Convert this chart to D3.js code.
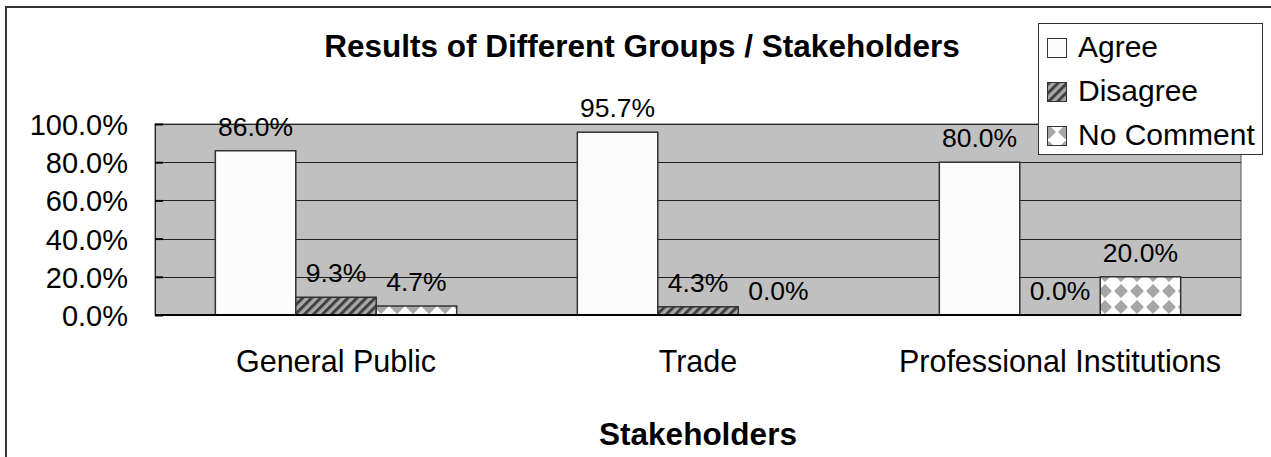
<!DOCTYPE html>
<html>
<head>
<meta charset="utf-8">
<script src="https://cdn.jsdelivr.net/npm/d3@7"></script>
<style>
  body { margin: 0; background: #fff; }
  text { font-family: "Liberation Sans", Arial, sans-serif; fill: #000; }
</style>
</head>
<body>
<div id="chart"></div>
<script>
  const categories = ['General Public', 'Trade', 'Professional Institutions'];
  const seriesNames = ['Agree', 'Disagree', 'No Comment'];
  const agree = [86.0, 95.7, 80.0];
  const disagree = [9.3, 4.3, 0.0];
  const noComment = [4.7, 0.0, 20.0];
  const yTicks = [0, 20, 40, 60, 80, 100];

  const width = 1271, height = 457;
  const plot = {left: 155, right: 1241, top: 124, bottom: 315};

  let svg = d3.select('#chart')
    .append('svg')
    .attr('width', width)
    .attr('height', height);

  // patterns
  let defs = svg.append('defs');
  let hatch = defs.append('pattern')
    .attr('id', 'hatch')
    .attr('patternUnits', 'userSpaceOnUse')
    .attr('width', 6.4)
    .attr('height', 6.4)
    .attr('patternTransform', 'rotate(45)');
  hatch.append('rect').attr('width', 6.4).attr('height', 6.4).attr('fill', '#a8a8a8');
  hatch.append('rect').attr('width', 3).attr('height', 6.4).attr('fill', '#404040');

  // rotated checkerboard: grey diamonds on the tile corners, white between
  let diamond = defs.append('pattern')
    .attr('id', 'diamond')
    .attr('patternUnits', 'userSpaceOnUse')
    .attr('width', 16)
    .attr('height', 16)
    .attr('x', 2)
    .attr('y', 3);
  diamond.append('rect').attr('width', 16).attr('height', 16).attr('fill', '#ffffff');
  diamond.append('path')
    .attr('d', 'M0,-7L7,0L0,7L-7,0Z M16,-7L23,0L16,7L9,0Z M0,9L7,16L0,23L-7,16Z M16,9L23,16L16,23L9,16Z')
    .attr('fill', '#a6a6a6');

  const fills = ['#fcfcfc', 'url(#hatch)', 'url(#diamond)'];
  const series = [agree, disagree, noComment];

  // outer frame
  svg.append('rect')
    .attr('x', 6).attr('y', 7)
    .attr('width', 1400).attr('height', 600)
    .attr('fill', 'none')
    .attr('stroke', '#333')
    .attr('stroke-width', 2);

  let x0 = d3.scaleBand()
    .domain(categories)
    .range([plot.left, plot.right]);
  let x1 = d3.scaleBand()
    .domain(seriesNames)
    .range([0, x0.bandwidth()])
    .paddingOuter(0.75);
  let y = d3.scaleLinear()
    .domain([0, 100])
    .range([plot.bottom, plot.top]);

  // plot background
  svg.append('rect')
    .attr('x', plot.left).attr('y', plot.top)
    .attr('width', plot.right - plot.left)
    .attr('height', plot.bottom - plot.top)
    .attr('fill', '#c0c0c0')
    .attr('stroke', '#555')
    .attr('stroke-width', 1);

  // gridlines
  svg.append('g')
    .selectAll('line')
    .data(yTicks)
    .join('line')
    .attr('x1', plot.left).attr('x2', plot.right)
    .attr('y1', d => Math.round(y(d)) + 0.5)
    .attr('y2', d => Math.round(y(d)) + 0.5)
    .attr('stroke', '#222')
    .attr('stroke-width', 1.2);

  // y axis
  let yAxis = svg.append('g')
    .attr('transform', `translate(${plot.left},0)`)
    .call(d3.axisLeft(y).tickValues(yTicks).tickSize(-8).tickPadding(27)
      .tickFormat(d => d.toFixed(1) + '%'));
  yAxis.select('.domain').attr('stroke', '#222');
  yAxis.selectAll('.tick line').attr('stroke', '#000').attr('stroke-width', 2);
  yAxis.selectAll('.tick text')
    .attr('font-size', 29)
    .attr('dy', '0.36em')
    .style('font-family', '"Liberation Sans", Arial, sans-serif');

  // bars
  let groups = svg.append('g')
    .selectAll('g')
    .data(categories)
    .join('g')
    .attr('transform', d => `translate(${x0(d)},0)`);

  groups.each(function(cat, ci) {
    let g = d3.select(this);
    let rows = seriesNames.map((s, si) => ({s, si, v: series[si][ci]}));
    g.selectAll('rect')
      .data(rows)
      .join('rect')
      .attr('x', d => x1(d.s))
      .attr('y', d => y(d.v))
      .attr('width', x1.bandwidth())
      .attr('height', d => y(0) - y(d.v))
      .attr('fill', d => fills[d.si])
      .attr('stroke', d => d.v > 0 ? '#333' : 'none')
      .attr('stroke-width', 1.5);
    g.selectAll('text')
      .data(rows)
      .join('text')
      .attr('x', d => x1(d.s) + x1.bandwidth() / 2)
      .attr('y', d => y(d.v) - 15)
      .attr('text-anchor', 'middle')
      .attr('font-size', 26.5)
      .text(d => d.v.toFixed(1) + '%');
  });

  // x axis line
  svg.append('line')
    .attr('x1', plot.left).attr('x2', plot.right)
    .attr('y1', plot.bottom).attr('y2', plot.bottom)
    .attr('stroke', '#000')
    .attr('stroke-width', 2);

  // category labels
  svg.append('g')
    .selectAll('text')
    .data(categories)
    .join('text')
    .attr('x', d => x0(d) + x0.bandwidth() / 2)
    .attr('y', 372)
    .attr('text-anchor', 'middle')
    .attr('font-size', 30.5)
    .text(d => d);

  // titles
  svg.append('text')
    .attr('x', 642).attr('y', 57)
    .attr('text-anchor', 'middle')
    .attr('font-size', 31.5)
    .attr('font-weight', 'bold')
    .text('Results of Different Groups / Stakeholders');

  svg.append('text')
    .attr('x', (plot.left + plot.right) / 2).attr('y', 445)
    .attr('text-anchor', 'middle')
    .attr('font-size', 31.5)
    .attr('font-weight', 'bold')
    .text('Stakeholders');

  // legend
  let legend = svg.append('g');
  legend.append('rect')
    .attr('x', 1038.5).attr('y', 23.5)
    .attr('width', 224).attr('height', 131)
    .attr('fill', '#fff')
    .attr('stroke', '#333')
    .attr('stroke-width', 1);
  let items = legend.selectAll('g.item')
    .data(seriesNames)
    .join('g')
    .attr('class', 'item')
    .attr('transform', (d, i) => `translate(1047,${57 + i * 44})`);
  items.append('rect')
    .attr('x', 0.5).attr('y', -18.5)
    .attr('width', 19).attr('height', 19)
    .attr('fill', (d, i) => fills[i])
    .attr('stroke', '#333')
    .attr('stroke-width', 1);
  items.append('text')
    .attr('x', 31)
    .attr('y', 0)
    .attr('font-size', 30)
    .text(d => d);
</script>
</body>
</html>
